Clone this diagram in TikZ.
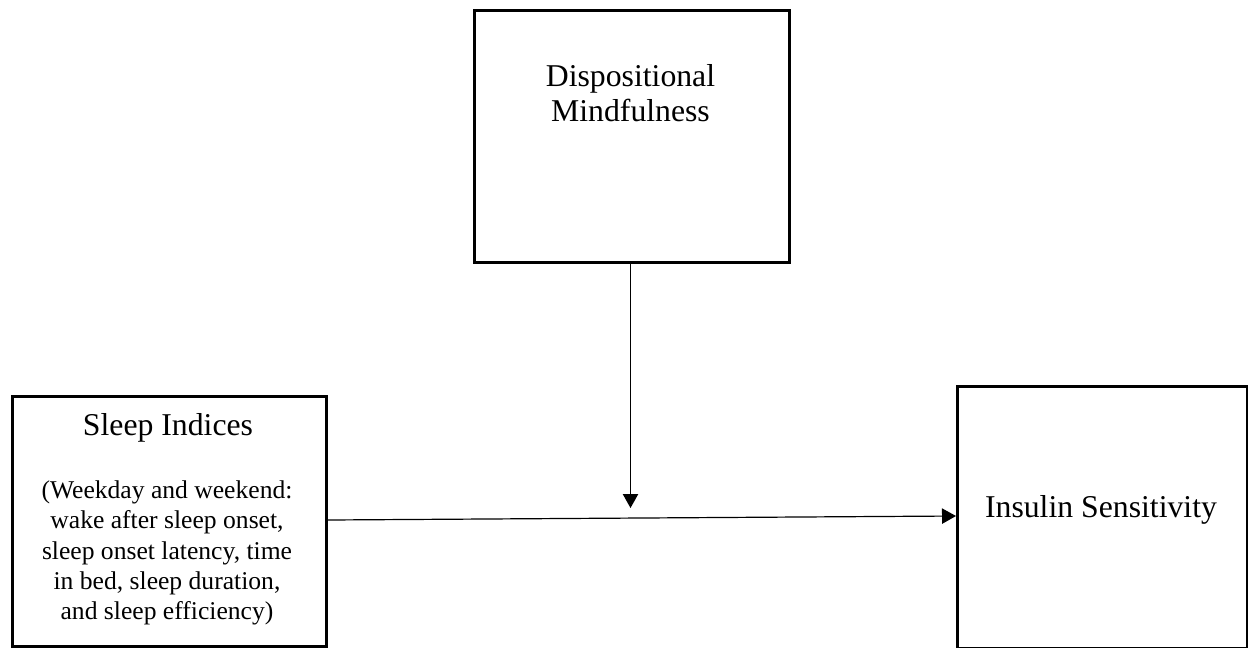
\documentclass[tikz,border=0pt]{standalone}
\usepackage{fontspec}
\setmainfont{Liberation Serif}
\usetikzlibrary{arrows.meta}
\begin{document}
\begin{tikzpicture}[x=0.75pt,y=-0.75pt,
  box/.style={draw=black,line width=2.1pt,fill=white,inner sep=0pt,anchor=north west},
  big/.style={font=\fontsize{23.8}{26}\selectfont,align=center},
  small/.style={font=\fontsize{19.2}{22.8}\selectfont,align=center},
  link/.style={draw=black,line width=0.9pt,-{Triangle[length=10.5pt,width=11.5pt]}}]
\useasboundingbox (0,0) rectangle (1248,647);
% boxes
\node[box,minimum width=315*0.75pt,minimum height=252*0.75pt] (disp) at (473,9) {};
\node[box,minimum width=314*0.75pt,minimum height=250*0.75pt] (sleep) at (11,395) {};
\node[box,minimum width=290*0.75pt,minimum height=262*0.75pt] (ins) at (956,385) {};
% texts
\node[big] (dispt) at (630.5,93) {Dispositional\\Mindfulness};
\node[big] (sleept) at (168,428) {Sleep Indices};
\node[small] (sleepd) at (167,553) {(Weekday and weekend:\\wake after sleep onset,\\sleep onset latency, time\\in bed, sleep duration,\\and sleep efficiency)};
\node[big] (inst) at (1101,510) {Insulin Sensitivity};
% connectors
\coordinate (s1) at (sleep.north east |- 0,520);
\coordinate (i1) at (ins.north west |- 0,516);
\coordinate (d1) at (disp.south west -| 630.5,0);
\coordinate (m1) at (630.5,508);
\draw[link] (s1) -- (i1);
\draw[link] (d1) -- (m1);
\end{tikzpicture}
\end{document}
